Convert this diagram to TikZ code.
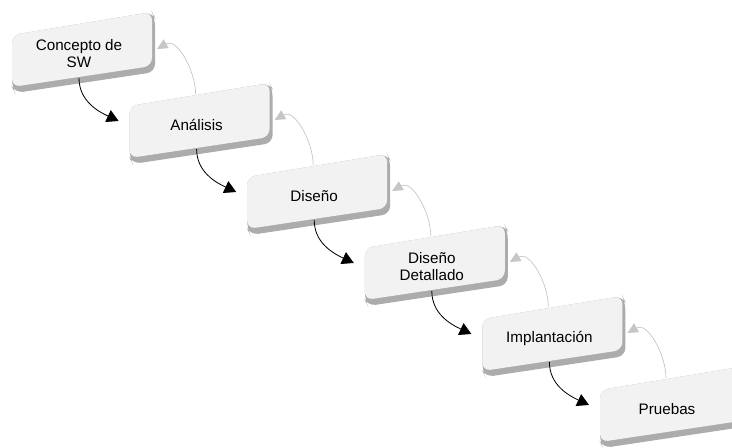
\documentclass[tikz,border=0pt]{standalone}
\usepackage{fontspec}
\setmainfont{Liberation Sans}
\usetikzlibrary{arrows.meta}

\begin{document}
\begin{tikzpicture}[x=0.03cm, y=-0.03cm,
  caja/.style={fill=gray!10, rounded corners=7},
  sombra/.style={fill=gray!65, rounded corners=7},
  texto/.style={align=center, font=\fontsize{13}{14.5}\selectfont},
  avance/.style={-{Triangle[length=10pt,width=11pt]}, line width=0.7pt},
  retro/.style={-{Triangle[length=9pt,width=8.5pt]}, color=gray!45, line width=0.6pt}]
\useasboundingbox (0,0) rectangle (732,447);
\clip (0,0) rectangle (732,447);

% cajas de las fases
\foreach \i/\fase in {0/{Concepto de\\SW}, 1/{An\'alisis}, 2/{Dise\~no},
    3/{Dise\~no\\Detallado}, 4/{Implantaci\'on}, 5/{Pruebas}}{
  \begin{scope}[shift={({12+117.6*\i},{35+71*\i})}]
    \fill[sombra] (0,0) -- (140,-23) -- (143,-17) -- (143,37) -- (3,58) -- (0,52) -- cycle;
    \fill[caja] (0,0) -- (140,-23) -- (140,31) -- (0,52) -- cycle;
    \node[texto] (f\i) at (67,19) {\fase};
    \coordinate (f\i-sal) at (67,43);
    \coordinate (f\i-ent) at (-11,15);
    \coordinate (f\i-arr) at (66,-12);
    \coordinate (f\i-der) at (145,14);
  \end{scope}
}

% flechas entre fases
\foreach \i [evaluate=\i as \j using int(\i+1)] in {0,...,4}{
  \draw[avance] (f\i-sal) to[out=-90, in=155] (f\j-ent);
  \draw[retro] (f\j-arr) to[out=90, in=30] (f\i-der);
}
\end{tikzpicture}
\end{document}
